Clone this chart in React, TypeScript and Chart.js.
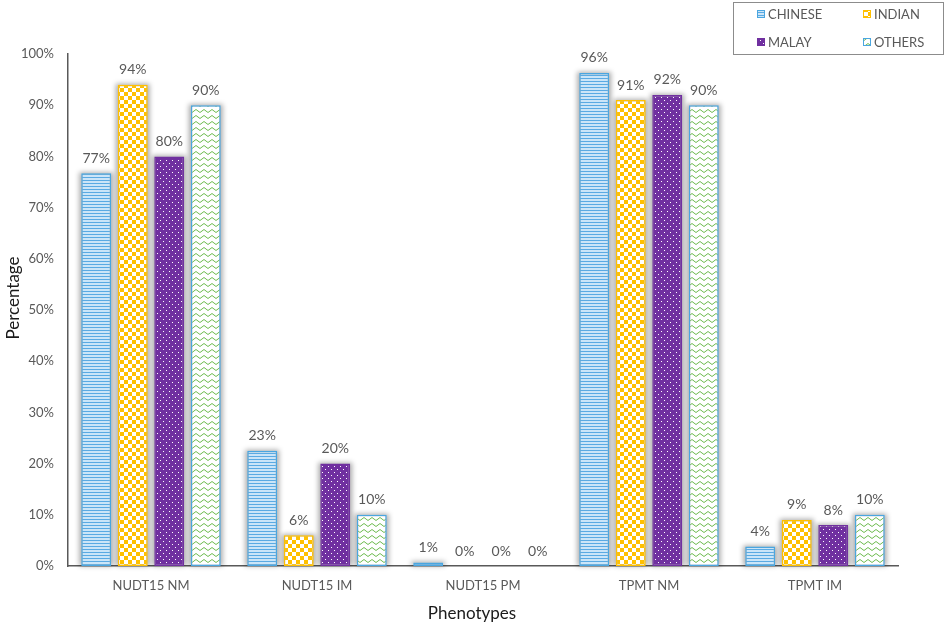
import { useEffect, useRef } from "react";
import { Chart, registerables } from "chart.js";

Chart.register(...registerables);

const categories = ["NUDT15 NM", "NUDT15 IM", "NUDT15 PM", "TPMT NM", "TPMT IM"];
const chinese = [76.7, 22.5, 0.7, 96.3, 3.8];
const indian = [94, 6, 0, 91, 9];
const malay = [80, 20, 0, 92, 8];
const others = [90, 10, 0, 90, 10];
const seriesNames = ["CHINESE", "INDIAN", "MALAY", "OTHERS"];
const yTicks = [0, 10, 20, 30, 40, 50, 60, 70, 80, 90, 100];

const FONT = "Lato, 'Open Sans', sans-serif";
const GREY = "#595959";

function tile(w: number, h: number, draw: (c: CanvasRenderingContext2D) => void) {
  const cv = document.createElement("canvas");
  cv.width = w;
  cv.height = h;
  const c = cv.getContext("2d")!;
  draw(c);
  return c.createPattern(cv, "repeat")!;
}

function makePatterns() {
  const lines = tile(4, 3, (c) => {
    c.fillStyle = "#cbe5f8";
    c.fillRect(0, 0, 4, 3);
    c.fillStyle = "#5aaae3";
    c.fillRect(0, 0, 4, 1);
  });
  const checks = tile(8, 8, (c) => {
    c.fillStyle = "#ffffff";
    c.fillRect(0, 0, 8, 8);
    c.fillStyle = "#ffc000";
    c.fillRect(0, 0, 4, 4);
    c.fillRect(4, 4, 4, 4);
  });
  const dots = tile(6, 6, (c) => {
    c.fillStyle = "#7030a0";
    c.fillRect(0, 0, 6, 6);
    c.fillStyle = "#ffffff";
    c.fillRect(1, 1, 1, 1);
    c.fillRect(4, 4, 1, 1);
  });
  const zigzag = tile(8, 6, (c) => {
    c.fillStyle = "#ffffff";
    c.fillRect(0, 0, 8, 6);
    c.strokeStyle = "#6dbb4e";
    c.lineWidth = 1;
    c.beginPath();
    c.moveTo(0, 4.5);
    c.lineTo(4, 1.5);
    c.lineTo(8, 4.5);
    c.stroke();
  });
  return [lines, checks, dots, zigzag];
}

const borders = ["#4aa6e0", "#ffc000", "#7030a0", "#4aa6e0"];

export default function App() {
  const chartRef = useRef<HTMLCanvasElement | null>(null);

  useEffect(() => {
    if (!chartRef.current) return;
    const ctx = chartRef.current.getContext("2d");
    if (!ctx) return;
    const patterns = makePatterns();
    const values = [chinese, indian, malay, others];

    // soft grey halo behind each bar
    const shadowPlugin = {
      id: "barShadow",
      beforeDatasetsDraw(chart: any) {
        const c = chart.ctx;
        c.save();
        c.filter = "blur(2.5px)";
        c.fillStyle = "rgba(0,0,0,0.32)";
        chart.data.datasets.forEach((_ds: any, i: number) => {
          chart.getDatasetMeta(i).data.forEach((bar: any) => {
            const p = bar.getProps(["x", "y", "base", "width"], true);
            const h = p.base - p.y;
            if (h < 0.5) return;
            c.fillRect(p.x - p.width / 2 - 2, p.y - 1, p.width + 4, h + 1);
          });
        });
        c.restore();
      },
    };

    const labelPlugin = {
      id: "valueLabels",
      afterDatasetsDraw(chart: any) {
        const c = chart.ctx;
        c.save();
        c.font = `14px ${FONT}`;
        c.fillStyle = GREY;
        c.textAlign = "center";
        c.textBaseline = "middle";
        chart.data.datasets.forEach((ds: any, i: number) => {
          chart.getDatasetMeta(i).data.forEach((bar: any, j: number) => {
            c.fillText(Math.round(ds.data[j]) + "%", bar.x, bar.y - 15);
          });
        });
        c.restore();
      },
    };

    const titlesPlugin = {
      id: "axisTitles",
      afterDraw(chart: any) {
        const c = chart.ctx;
        c.save();
        c.font = `17px ${FONT}`;
        c.fillStyle = "#1a1a1a";
        c.textAlign = "center";
        c.textBaseline = "middle";
        c.fillText("Phenotypes", 472, 614);
        c.translate(14, 298);
        c.rotate(-Math.PI / 2);
        c.fillText("Percentage", 0, 0);
        c.restore();
      },
    };

    const legendPlugin = {
      id: "boxLegend",
      afterDraw(chart: any) {
        const c = chart.ctx;
        c.save();
        c.strokeStyle = "#8c8c8c";
        c.lineWidth = 1;
        c.strokeRect(733.5, 2.5, 210, 52);
        c.font = `13px ${FONT}`;
        c.textBaseline = "middle";
        const pos = [
          [757, 14],
          [863, 14],
          [757, 42],
          [863, 42],
        ];
        seriesNames.forEach((name, i) => {
          const [x, y] = pos[i];
          c.fillStyle = patterns[i];
          c.fillRect(x, y - 4, 8, 8);
          c.strokeStyle = borders[i];
          c.strokeRect(x + 0.5, y - 3.5, 7, 7);
          c.fillStyle = GREY;
          c.fillText(name, x + 11, y + 1);
        });
        c.restore();
      },
    };

    const chart = new Chart(ctx, {
      type: "bar",
      data: {
        labels: categories,
        datasets: seriesNames.map((name, i) => ({
          label: name,
          data: values[i],
          backgroundColor: patterns[i],
          borderColor: borders[i],
          borderWidth: 1.5,
          borderSkipped: false,
          categoryPercentage: 0.88,
          barPercentage: 0.82,
        })),
      },
      options: {
        animation: false,
        responsive: false,
        layout: { padding: { top: 54, right: 50, left: 0, bottom: 0 } },
        plugins: {
          legend: { display: false },
          tooltip: { enabled: false },
        },
        scales: {
          x: {
            grid: { display: false, drawTicks: false },
            border: { display: true, color: GREY, width: 1.5 },
            ticks: { color: GREY, font: { family: FONT, size: 13 }, padding: 12 },
            afterFit(scale: any) {
              scale.height = 60;
            },
          },
          y: {
            min: 0,
            max: 100,
            afterBuildTicks(scale: any) {
              scale.ticks = yTicks.map((v) => ({ value: v }));
            },
            grid: { display: false, drawTicks: false },
            border: { display: true, color: GREY, width: 1.5 },
            ticks: {
              color: GREY,
              font: { family: FONT, size: 13 },
              padding: 14,
              callback: (v: any) => v + "%",
            },
            afterFit(scale: any) {
              scale.width = 68;
            },
          },
        },
      },
      plugins: [shadowPlugin, labelPlugin, titlesPlugin, legendPlugin],
    });
    return () => chart.destroy();
  }, []);

  return (
    <div style={{ position: "fixed", left: 0, top: 0, width: 948, height: 626, background: "#fff" }}>
      <canvas ref={chartRef} width={948} height={626} style={{ width: 948, height: 626 }} />
    </div>
  );
}
